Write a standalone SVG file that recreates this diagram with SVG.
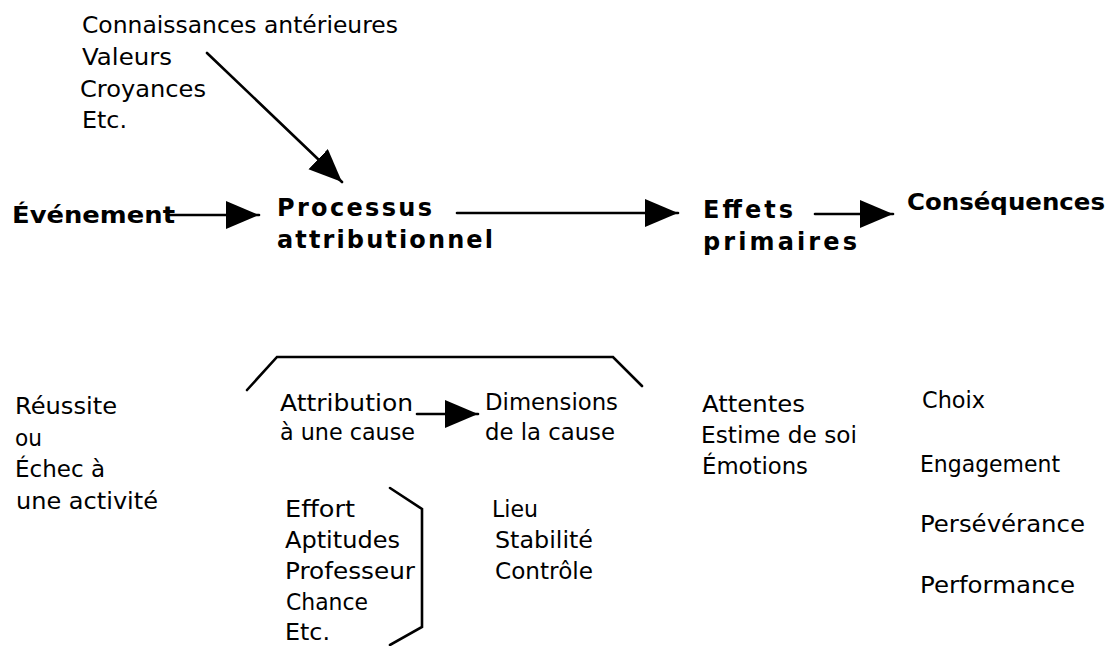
<svg xmlns="http://www.w3.org/2000/svg" width="1112" height="646" viewBox="0 0 1112 646">
<style>
text{font-family:"DejaVu Sans","Liberation Sans",sans-serif;fill:#000;font-size:23px}
.b{font-weight:bold;font-size:23px}
.s{font-weight:bold;font-size:24px}
.c{fill:none;stroke:#000;stroke-width:2.6;stroke-linecap:round;stroke-linejoin:miter}
</style>
<defs>
<marker id="ah" markerUnits="userSpaceOnUse" markerWidth="36" markerHeight="30" refX="33" refY="14" orient="auto">
<path d="M0,0 L33,14 L0,28 z" fill="#000"/>
</marker>
</defs>
<rect width="1112" height="646" fill="#fff"/>
<g id="connectors">
<line class="c" x1="170" y1="215" x2="259" y2="215" marker-end="url(#ah)"/>
<line class="c" x1="207" y1="53" x2="342" y2="182" marker-end="url(#ah)"/>
<line class="c" x1="457" y1="213" x2="678" y2="213" marker-end="url(#ah)"/>
<line class="c" x1="815" y1="214" x2="893" y2="214" marker-end="url(#ah)"/>
<line class="c" x1="417" y1="414" x2="478" y2="414" marker-end="url(#ah)"/>
<polyline class="c" points="247,390 277,357 613,357 642,386"/>
<polyline class="c" points="390,488 422,509 422,627 390,645"/>
</g>
<g id="influences">
<text x="82" y="33" textLength="316" lengthAdjust="spacingAndGlyphs">Connaissances antérieures</text>
<text x="82" y="65" textLength="90" lengthAdjust="spacingAndGlyphs">Valeurs</text>
<text x="80" y="97" textLength="126" lengthAdjust="spacingAndGlyphs">Croyances</text>
<text x="82" y="128" textLength="45" lengthAdjust="spacingAndGlyphs">Etc.</text>
</g>
<g id="evenement">
<text class="b" x="12" y="223" textLength="163" lengthAdjust="spacingAndGlyphs">Événement</text>
</g>
<g id="processus">
<text class="s" x="277" y="216" textLength="155" lengthAdjust="spacing">Processus</text>
<text class="s" x="277" y="248" textLength="216" lengthAdjust="spacing">attributionnel</text>
</g>
<g id="effets">
<text class="s" x="703" y="218" textLength="90" lengthAdjust="spacing">Effets</text>
<text class="s" x="703" y="250" textLength="154" lengthAdjust="spacing">primaires</text>
</g>
<g id="consequences">
<text class="b" x="907" y="210" textLength="198" lengthAdjust="spacingAndGlyphs">Conséquences</text>
</g>
<g id="reussite">
<text x="15" y="414" textLength="102" lengthAdjust="spacingAndGlyphs">Réussite</text>
<text x="15" y="446" textLength="27" lengthAdjust="spacingAndGlyphs">ou</text>
<text x="15" y="477" textLength="90" lengthAdjust="spacingAndGlyphs">Échec à</text>
<text x="16" y="509" textLength="142" lengthAdjust="spacingAndGlyphs">une activité</text>
</g>
<g id="attribution">
<text x="280" y="411" textLength="133" lengthAdjust="spacingAndGlyphs">Attribution</text>
<text x="280" y="440" textLength="135" lengthAdjust="spacingAndGlyphs">à une cause</text>
</g>
<g id="dimensions">
<text x="485" y="410" textLength="133" lengthAdjust="spacingAndGlyphs">Dimensions</text>
<text x="485" y="440" textLength="130" lengthAdjust="spacingAndGlyphs">de la cause</text>
</g>
<g id="causes">
<text x="285" y="517" textLength="70" lengthAdjust="spacingAndGlyphs">Effort</text>
<text x="285" y="548" textLength="115" lengthAdjust="spacingAndGlyphs">Aptitudes</text>
<text x="285" y="579" textLength="130" lengthAdjust="spacingAndGlyphs">Professeur</text>
<text x="286" y="610" textLength="82" lengthAdjust="spacingAndGlyphs">Chance</text>
<text x="285" y="640" textLength="45" lengthAdjust="spacingAndGlyphs">Etc.</text>
</g>
<g id="dims">
<text x="492" y="517" textLength="46" lengthAdjust="spacingAndGlyphs">Lieu</text>
<text x="495" y="548" textLength="98" lengthAdjust="spacingAndGlyphs">Stabilité</text>
<text x="495" y="579" textLength="98" lengthAdjust="spacingAndGlyphs">Contrôle</text>
</g>
<g id="effets-liste">
<text x="702" y="412" textLength="103" lengthAdjust="spacingAndGlyphs">Attentes</text>
<text x="701" y="443" textLength="156" lengthAdjust="spacingAndGlyphs">Estime de soi</text>
<text x="702" y="474" textLength="106" lengthAdjust="spacingAndGlyphs">Émotions</text>
</g>
<g id="consequences-liste">
<text x="922" y="408" textLength="63" lengthAdjust="spacingAndGlyphs">Choix</text>
<text x="920" y="472" textLength="140" lengthAdjust="spacingAndGlyphs">Engagement</text>
<text x="920" y="532" textLength="165" lengthAdjust="spacingAndGlyphs">Persévérance</text>
<text x="920" y="593" textLength="155" lengthAdjust="spacingAndGlyphs">Performance</text>
</g>
</svg>
